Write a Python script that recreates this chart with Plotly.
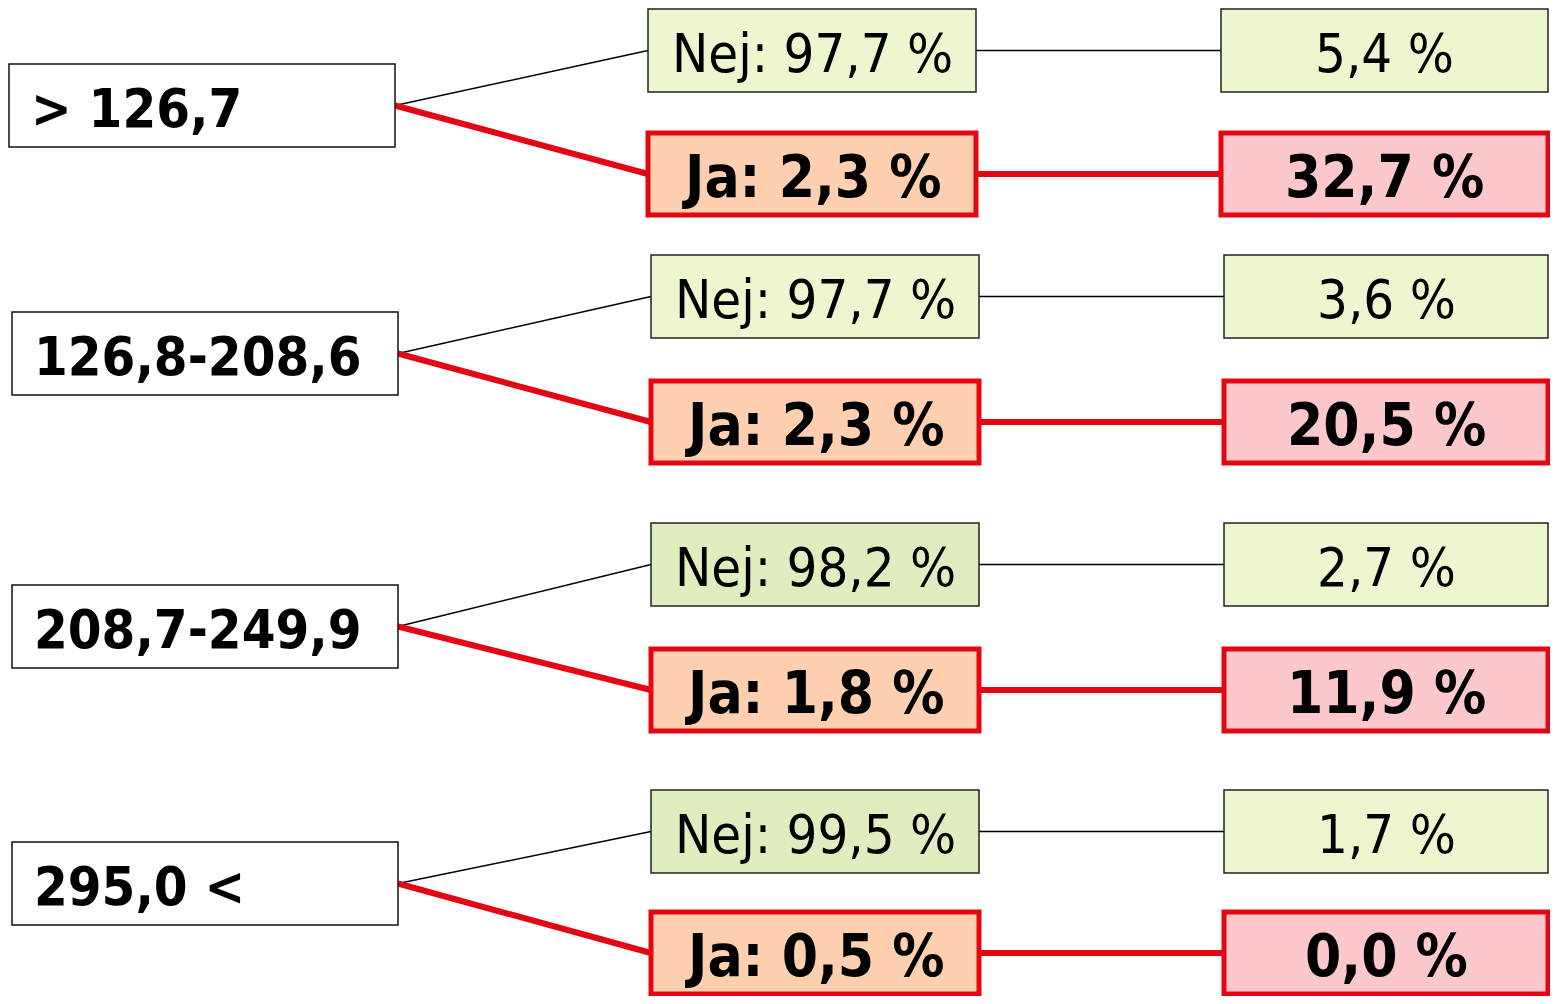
import plotly.graph_objects as go

# ---- data ----
groups = ["> 126,7", "126,8-208,6", "208,7-249,9", "295,0 <"]
nej_share = ["97,7", "97,7", "98,2", "99,5"]
ja_share = ["2,3", "2,3", "1,8", "0,5"]
nej_outcome = ["5,4", "3,6", "2,7", "1,7"]
ja_outcome = ["32,7", "20,5", "11,9", "0,0"]

# ---- layout (pixel geometry, page coordinates) ----
W, H = 1558, 1004
OFF = 8  # page body margin
x_shift = [-3, 0, 0, 0]
left_top = [64, 312, 585, 842]
nej_top = [9, 255, 523, 790]
ja_top = [131, 379, 647, 910]
nej_fill = ["#EDF7CF", "#EDF7CF", "#E0EDBF", "#E0EDBF"]
RED = "#E30613"
FONT = "DejaVu Sans Condensed"

fig = go.Figure()
shapes = []
annotations = []

for i, g in enumerate(groups):
    dx = x_shift[i]
    lx0, lx1 = 12 + dx, 398 + dx
    ly0, ly1 = left_top[i], left_top[i] + 83
    lmid = (ly0 + ly1) / 2
    nx0, nx1 = 651 + dx, 979 + dx
    ny0, ny1 = nej_top[i], nej_top[i] + 83
    nmid = (ny0 + ny1) / 2
    jx0, jx1 = 651 + dx, 979 + dx
    jy0, jy1 = ja_top[i] + 2, ja_top[i] + 84
    jmid = (jy0 + jy1) / 2
    rx0, rx1 = 1224 + dx, 1548

    # connectors
    shapes.append(dict(type="line", x0=lx1, y0=lmid, x1=nx0, y1=nmid,
                       line=dict(color="black", width=1.5), layer="below"))
    shapes.append(dict(type="line", x0=lx1, y0=lmid, x1=jx0, y1=jmid,
                       line=dict(color=RED, width=6), layer="below"))
    shapes.append(dict(type="line", x0=nx1, y0=nmid, x1=rx0, y1=nmid,
                       line=dict(color="black", width=1.5), layer="below"))
    shapes.append(dict(type="line", x0=jx1, y0=jmid, x1=rx0, y1=jmid,
                       line=dict(color=RED, width=6), layer="below"))

    # boxes
    shapes.append(dict(type="rect", x0=lx0, x1=lx1, y0=ly0, y1=ly1,
                       fillcolor="white", line=dict(color="#111", width=1.5)))
    shapes.append(dict(type="rect", x0=nx0, x1=nx1, y0=ny0, y1=ny1,
                       fillcolor=nej_fill[i], line=dict(color="#222", width=1.5)))
    shapes.append(dict(type="rect", x0=jx0, x1=jx1, y0=jy0, y1=jy1,
                       fillcolor="#FFD0B0", line=dict(color=RED, width=5)))
    shapes.append(dict(type="rect", x0=rx0, x1=rx1, y0=ny0, y1=ny1,
                       fillcolor="#EDF7CF", line=dict(color="#222", width=1.5)))
    shapes.append(dict(type="rect", x0=rx0, x1=rx1, y0=jy0, y1=jy1,
                       fillcolor="#FCC8CC", line=dict(color=RED, width=5)))

    # texts
    annotations.append(dict(x=lx0 + 20, y=lmid + 3, text="<b>" + g + "</b>",
                            xanchor="left", yanchor="middle", showarrow=False,
                            font=dict(family=FONT, size=54, color="black")))
    annotations.append(dict(x=(nx0 + nx1) / 2, y=nmid + 3, text="Nej: " + nej_share[i] + " %",
                            xanchor="center", yanchor="middle", showarrow=False,
                            font=dict(family=FONT, size=54, color="black")))
    annotations.append(dict(x=(jx0 + jx1) / 2, y=jmid + 3, text="<b>Ja: " + ja_share[i] + " %</b>",
                            xanchor="center", yanchor="middle", showarrow=False,
                            font=dict(family=FONT, size=58, color="black")))
    annotations.append(dict(x=(rx0 + rx1) / 2, y=nmid + 3, text=nej_outcome[i] + " %",
                            xanchor="center", yanchor="middle", showarrow=False,
                            font=dict(family=FONT, size=54, color="black")))
    annotations.append(dict(x=(rx0 + rx1) / 2, y=jmid + 3, text="<b>" + ja_outcome[i] + " %</b>",
                            xanchor="center", yanchor="middle", showarrow=False,
                            font=dict(family=FONT, size=58, color="black")))

FW, FH = W - 2 * OFF, H - 2 * OFF
fig.update_layout(
    width=FW, height=FH,
    margin=dict(l=0, r=0, t=0, b=0),
    paper_bgcolor="white", plot_bgcolor="white",
    shapes=shapes, annotations=annotations,
    xaxis=dict(range=[OFF, OFF + FW], visible=False, fixedrange=True),
    yaxis=dict(range=[OFF + FH, OFF], visible=False, fixedrange=True),
    showlegend=False,
)
fig.write_html("out.html")
